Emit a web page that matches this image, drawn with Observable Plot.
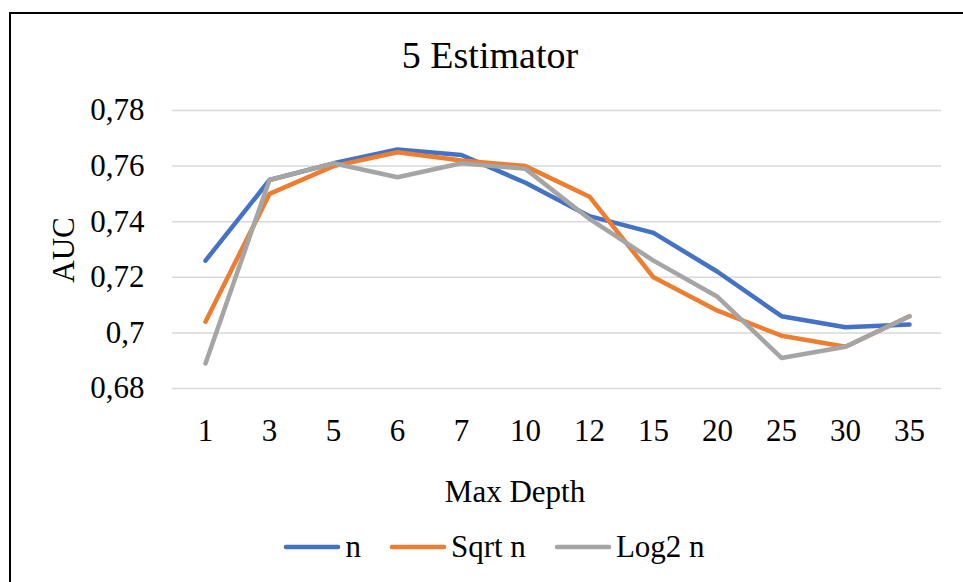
<!DOCTYPE html>
<html>
<head>
<meta charset="utf-8">
<script src="https://cdn.jsdelivr.net/npm/d3@7"></script>
<script src="https://cdn.jsdelivr.net/npm/@observablehq/plot@0.6"></script>
<style>
  html, body { margin: 0; padding: 0; background: #fff; }
  body { width: 963px; height: 582px; overflow: hidden; position: relative;
         font-family: "Liberation Serif", "Times New Roman", Times, Tinos, "DejaVu Serif", serif; color: #000; }
  #frame { position: absolute; left: 9px; top: 12px; width: 1200px; height: 1000px;
           border-left: 2px solid #000; border-top: 2px solid #000; z-index: 5; pointer-events: none; }
  #title { position: absolute; left: 0; width: 980px; top: 36px; text-align: center;
           font-size: 38px; line-height: 38px; white-space: nowrap; }
  #ylabel { position: absolute; left: 63px; top: 250px; font-size: 31px; line-height: 31px;
            transform: translate(-50%, -50%) rotate(-90deg); white-space: nowrap; }
  #xlabel { position: absolute; left: 315px; width: 400px; top: 476px; text-align: center;
            font-size: 31px; line-height: 31px; white-space: nowrap; }
  #chart { position: absolute; left: 0; top: 0; }
  #chart svg text { font-family: "Liberation Serif", "Times New Roman", Times, Tinos, "DejaVu Serif", serif; }
  #legend { position: absolute; left: 0; width: 988px; top: 531px; display: flex; justify-content: center;
            align-items: center; font-size: 31px; line-height: 31px; white-space: nowrap; }
  .item { display: flex; align-items: center; margin: 0 14px; }
  .item svg { margin-right: 4px; }
</style>
</head>
<body>
<div id="frame"></div>
<div id="title">5 Estimator</div>
<div id="chart"></div>
<div id="ylabel">AUC</div>
<div id="xlabel">Max Depth</div>
<div id="legend"></div>
<script>
// ---- data ----
const depths = ["1", "3", "5", "6", "7", "10", "12", "15", "20", "25", "30", "35"];
const seriesNames = ["n", "Sqrt n", "Log2 n"];
const seriesColors = ["#4472C4", "#ED7D31", "#A5A5A5"];
const valuesN     = [0.726, 0.755, 0.761, 0.766, 0.764, 0.754, 0.742, 0.736, 0.722, 0.706, 0.702, 0.703];
const valuesSqrtN = [0.704, 0.750, 0.760, 0.765, 0.762, 0.760, 0.749, 0.720, 0.708, 0.699, 0.695, 0.706];
const valuesLog2N = [0.689, 0.755, 0.761, 0.756, 0.761, 0.759, 0.741, 0.726, 0.713, 0.691, 0.695, 0.706];
const yTicks      = [0.68, 0.70, 0.72, 0.74, 0.76, 0.78];
const yTickLabels = ["0,68", "0,7", "0,72", "0,74", "0,76", "0,78"];

const allValues = [valuesN, valuesSqrtN, valuesLog2N];
const rows = seriesNames.map((s, k) => depths.map((d, i) => ({series: s, depth: d, value: allValues[k][i]})));

const tickFmt = v => yTickLabels[yTicks.findIndex(t => Math.abs(t - v) < 1e-9)] ?? "";

const plot = Plot.plot({
  width: 963,
  height: 470,
  marginTop: 110,
  marginBottom: 82,
  marginLeft: 172,
  marginRight: 22,
  style: {background: "transparent", fontSize: "31px", color: "#000"},
  x: {type: "point", domain: depths, padding: 0.5},
  y: {domain: [0.68, 0.78]},
  marks: [
    Plot.gridY(yTicks, {stroke: "#D9D9D9", strokeOpacity: 1, strokeWidth: 1.5}),
    Plot.axisY(yTicks, {tickSize: 0, tickPadding: 28, tickFormat: tickFmt, label: null, fontSize: 31}),
    Plot.axisX({tickSize: 0, tickPadding: 30, label: null, fontSize: 31}),
    ...rows.map((r, k) => Plot.line(r, {x: "depth", y: "value", stroke: seriesColors[k], strokeWidth: 4.5,
                                       strokeLinecap: "round", strokeLinejoin: "round"}))
  ]
});
document.getElementById("chart").appendChild(plot);

// ---- legend ----
const legend = document.getElementById("legend");
seriesNames.forEach((s, k) => {
  const item = document.createElement("div");
  item.className = "item";
  item.innerHTML = `<svg width="58" height="8"><line x1="3" y1="4" x2="55" y2="4" stroke="${seriesColors[k]}" stroke-width="4.5" stroke-linecap="round"/></svg>`;
  const t = document.createElement("span");
  t.textContent = s;
  item.appendChild(t);
  legend.appendChild(item);
});
</script>
</body>
</html>
